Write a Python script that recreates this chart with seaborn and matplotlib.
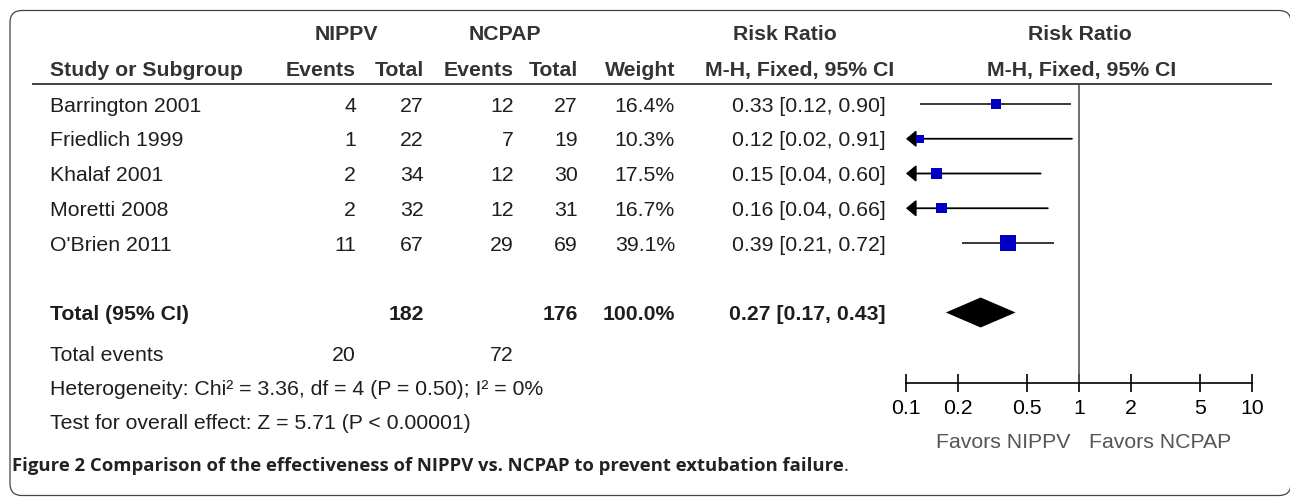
import numpy as np
import pandas as pd
import matplotlib
matplotlib.use("Agg")
import matplotlib.pyplot as plt
import seaborn as sns
from matplotlib.patches import FancyBboxPatch
from matplotlib.ticker import NullLocator

# ---------------- data ----------------
studies = ["Barrington 2001", "Friedlich 1999", "Khalaf 2001", "Moretti 2008", "O'Brien 2011"]
nippv_events = [4, 1, 2, 2, 11]
nippv_total = [27, 22, 34, 32, 67]
ncpap_events = [12, 7, 12, 12, 29]
ncpap_total = [27, 19, 30, 31, 69]
weights = [16.4, 10.3, 17.5, 16.7, 39.1]
rr = [0.33, 0.12, 0.15, 0.16, 0.39]
ci_lo = [0.12, 0.02, 0.04, 0.04, 0.21]
ci_hi = [0.90, 0.91, 0.60, 0.66, 0.72]

total_label = "Total (95% CI)"
total_n = [182, 176]
total_weight = 100.0
total_rr = [0.27, 0.17, 0.43]  # estimate, lower, upper
total_events = [20, 72]
heterogeneity = "Heterogeneity: Chi\u00b2 = 3.36, df = 4 (P = 0.50); I\u00b2 = 0%"
overall = "Test for overall effect: Z = 5.71 (P < 0.00001)"
xticks = [0.1, 0.2, 0.5, 1, 2, 5, 10]
xtick_labels = ["0.1", "0.2", "0.5", "1", "2", "5", "10"]
favors = ["Favors NIPPV", "Favors NCPAP"]
groups = ["NIPPV", "NCPAP"]
caption = "Figure 2 Comparison of the effectiveness of NIPPV vs. NCPAP to prevent extubation failure"

df = pd.DataFrame({"study": studies, "rr": rr, "lo": ci_lo, "hi": ci_hi,
                   "weight": weights, "row": np.arange(len(studies))})

# ---------------- figure ----------------
W, H, DPI = 1290, 497, 100
sns.set_theme(style="white")
plt.rcParams['font.family'] = ['Liberation Sans', 'DejaVu Sans']

fig = plt.figure(figsize=(W / DPI, H / DPI), dpi=DPI)
fig.patch.set_facecolor("white")
ov = fig.add_axes([0, 0, 1, 1])
ov.set_xlim(0, W)
ov.set_ylim(H, 0)
ov.axis("off")

FS = 15.3
HEAD = "#333333"
BODY = "#1e1e1e"


def T(x, yc, s, ha="left", bold=False, color=BODY, size=FS, family=None):
    px = size * DPI / 72.0
    kw = {}
    if family is not None:
        kw["family"] = family
    return ov.text(x, yc + 0.358 * px, s, ha=ha, va="baseline",
                   fontsize=size, fontweight="bold" if bold else "normal",
                   color=color, **kw)


# border
ov.add_patch(FancyBboxPatch((10, 10.5), 1281, 485, boxstyle="round,pad=0,rounding_size=12",
                            fill=False, edgecolor="#444444", linewidth=0.9))

# headers
T(346, 32, groups[0], ha="center", bold=True, color=HEAD)
T(505, 32, groups[1], ha="center", bold=True, color=HEAD)
T(785, 32, "Risk Ratio", ha="center", bold=True, color=HEAD)
T(1080, 32, "Risk Ratio", ha="center", bold=True, color=HEAD)

T(50, 68, "Study or Subgroup", bold=True, color=HEAD)
T(356, 68, "Events", ha="right", bold=True, color=HEAD)
T(424, 68, "Total", ha="right", bold=True, color=HEAD)
T(514, 68, "Events", ha="right", bold=True, color=HEAD)
T(578, 68, "Total", ha="right", bold=True, color=HEAD)
T(675, 68, "Weight", ha="right", bold=True, color=HEAD)
T(800, 68, "M-H, Fixed, 95% CI", ha="center", bold=True, color=HEAD)
T(1082, 68, "M-H, Fixed, 95% CI", ha="center", bold=True, color=HEAD)

ov.plot([32, 1272], [84, 84], color="#333333", lw=1.3, solid_capstyle="butt")

# study rows
ROW0, DY = 104, 34.75
for i in range(len(studies)):
    y = ROW0 + DY * i
    T(50, y, studies[i])
    T(356, y, f"{nippv_events[i]}", ha="right")
    T(424, y, f"{nippv_total[i]}", ha="right")
    T(514, y, f"{ncpap_events[i]}", ha="right")
    T(578, y, f"{ncpap_total[i]}", ha="right")
    T(675, y, f"{weights[i]:.1f}%", ha="right")
    T(886, y, f"{rr[i]:.2f} [{ci_lo[i]:.2f}, {ci_hi[i]:.2f}]", ha="right")

# total row
TROW = 6
yt = ROW0 + DY * TROW
T(50, yt, total_label, bold=True)
T(424, yt, f"{total_n[0]}", ha="right", bold=True)
T(578, yt, f"{total_n[1]}", ha="right", bold=True)
T(675, yt, f"{total_weight:.1f}%", ha="right", bold=True)
T(886, yt, f"{total_rr[0]:.2f} [{total_rr[1]:.2f}, {total_rr[2]:.2f}]", ha="right", bold=True)

T(50, 353, "Total events")
T(356, 353, f"{total_events[0]}", ha="right")
T(514, 353, f"{total_events[1]}", ha="right")
T(50, 387, heterogeneity)
T(50, 421, overall)

T(1070, 440, favors[0], ha="right", color="#555555")
T(1089, 440, favors[1], ha="left", color="#555555")

CAPFS = 13.3
cap = T(12, 464, caption, bold=True, color="#222222", size=CAPFS, family=["Open Sans", "DejaVu Sans"])
fig.canvas.draw()
bb = cap.get_window_extent()
T(bb.x1, 464, ".", color="#222222", size=CAPFS, family=["Open Sans", "DejaVu Sans"])

# ---------------- forest axes ----------------
X0, X1 = 906, 1252
YTOP, YBOT = 85, 383
fa = fig.add_axes([X0 / W, 1 - YBOT / H, (X1 - X0) / W, (YBOT - YTOP) / H])
fa.patch.set_alpha(0)
fa.set_xscale("log")
fa.set_xlim(xticks[0], xticks[-1])
fa.set_ylim((YBOT - ROW0) / DY, (YTOP - ROW0) / DY)
for s in ["top", "right", "left"]:
    fa.spines[s].set_visible(False)
fa.spines["bottom"].set_color("black")
fa.spines["bottom"].set_linewidth(1.2)
fa.set_xticks(xticks)
fa.set_xticklabels(xtick_labels)
fa.xaxis.set_minor_locator(NullLocator())
fa.set_yticks([])
fa.tick_params(axis="x", which="major", bottom=True, top=False, direction="inout",
               length=13, width=1.2, color="black", labelcolor="black",
               labelsize=FS, pad=5)
fa.grid(False)

fa.axvline(1, color="#555555", lw=1.2, zorder=1)

for _, r in df.iterrows():
    if r.lo < xticks[0]:
        fa.annotate("", xy=(xticks[0], r.row), xytext=(r.hi, r.row),
                    arrowprops=dict(arrowstyle="-|>,head_length=0.6,head_width=0.5",
                                    color="black", lw=1.3, shrinkA=0, shrinkB=0,
                                    mutation_scale=10), zorder=2)
    else:
        fa.plot([r.lo, r.hi], [r.row, r.row], color="#2a2a2a", lw=1.3, zorder=2,
                solid_capstyle="butt")

sns.scatterplot(data=df, x="rr", y="row", size="weight", sizes=(0, 133),
                size_norm=(0, max(weights)), marker="s", color="#0000c4",
                linewidth=0, legend=False, ax=fa, zorder=3)
fa.set_xlabel("")
fa.set_ylabel("")

h = 15 / DY
fa.fill([total_rr[1], total_rr[0], total_rr[2], total_rr[0]],
        [TROW, TROW - h, TROW, TROW + h], color="black", lw=0, zorder=3)

fig.savefig("out.png", dpi=DPI, facecolor="white")
